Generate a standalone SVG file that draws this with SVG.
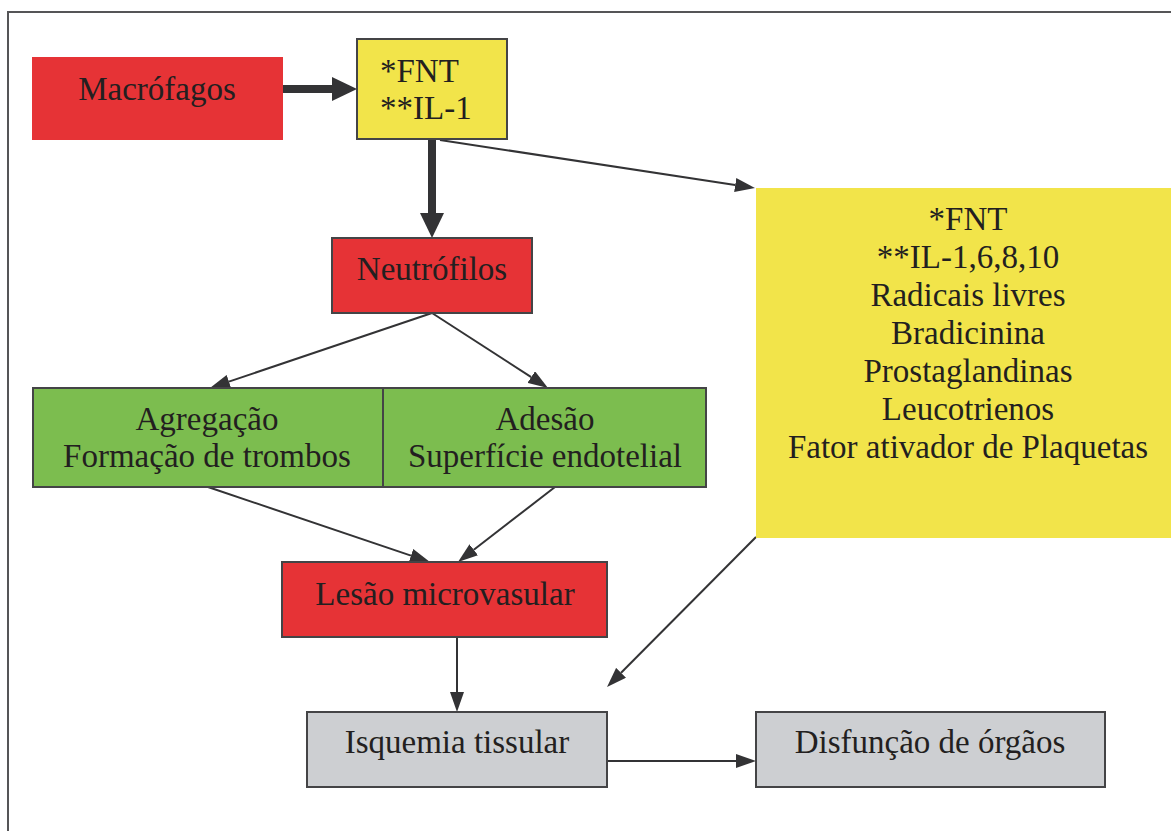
<svg xmlns="http://www.w3.org/2000/svg" width="1171" height="831" viewBox="0 0 1171 831">
  <style>
    text { font-family: "Liberation Serif", "Times New Roman", serif; font-size: 33px; fill: #231f20; }
    .c { text-anchor: middle; }
    .box { stroke: #444446; stroke-width: 2; }
    .red { fill: #e63336; }
    .yellow { fill: #f2e44a; }
    .green { fill: #7cbd4f; }
    .gray { fill: #cdcfd2; }
    .thin { stroke: #333335; stroke-width: 2; fill: none; marker-end: url(#ah); }
    .thick { stroke: #333335; stroke-width: 8; fill: none; marker-end: url(#ahb); }
  </style>
  <defs>
    <marker id="ah" markerUnits="userSpaceOnUse" viewBox="0 0 20 14" refX="0" refY="7" markerWidth="20" markerHeight="14" orient="auto">
      <path d="M0,0 L20,7 L0,14 z" fill="#333335"/>
    </marker>
    <marker id="ahb" markerUnits="userSpaceOnUse" viewBox="0 0 25 24" refX="0" refY="12" markerWidth="25" markerHeight="24" orient="auto">
      <path d="M0,0 L25,12 L0,24 z" fill="#333335"/>
    </marker>
  </defs>
  <rect x="0" y="0" width="1171" height="831" fill="#ffffff"/>
  <rect id="frame" x="8" y="12" width="1200" height="900" fill="none" stroke="#555557" stroke-width="2"/>

  <g id="connectors">
    <line class="thick" x1="283" y1="89" x2="332" y2="89"/>
    <line class="thick" x1="432" y1="139" x2="432" y2="213"/>
    <line class="thin" x1="440" y1="140" x2="735.2" y2="185"/>
    <line class="thin" x1="432" y1="313" x2="228.9" y2="381.6"/>
    <line class="thin" x1="432" y1="313" x2="531.2" y2="377.1"/>
    <line class="thin" x1="208" y1="487" x2="411" y2="555.6"/>
    <line class="thin" x1="555" y1="487" x2="473.8" y2="549.8"/>
    <line class="thin" x1="457" y1="637" x2="457" y2="692"/>
    <line class="thin" x1="756" y1="537" x2="621.1" y2="672.8"/>
    <line class="thin" x1="607" y1="761" x2="736" y2="761"/>
  </g>

  <g id="macrofagos">
    <rect class="red" x="32" y="57" width="251" height="83"/>
    <text class="c" x="157" y="100">Macrófagos</text>
  </g>
  <g id="fnt-il1">
    <rect class="box yellow" x="357" y="39" width="150" height="100"/>
    <text x="380" y="82">*FNT</text>
    <text x="380" y="119">**IL-1</text>
  </g>
  <g id="mediadores">
    <rect class="yellow" x="756" y="188" width="430" height="350"/>
    <text class="c" x="968" y="230">*FNT</text>
    <text class="c" x="968" y="268">**IL-1,6,8,10</text>
    <text class="c" x="968" y="306">Radicais livres</text>
    <text class="c" x="968" y="344">Bradicinina</text>
    <text class="c" x="968" y="382">Prostaglandinas</text>
    <text class="c" x="968" y="420">Leucotrienos</text>
    <text class="c" x="968" y="458">Fator ativador de Plaquetas</text>
  </g>
  <g id="neutrofilos">
    <rect class="box red" x="332" y="238" width="200" height="75"/>
    <text class="c" x="432" y="280">Neutrófilos</text>
  </g>
  <g id="agregacao">
    <rect class="box green" x="33" y="388" width="350" height="99"/>
    <text class="c" x="207" y="430">Agregação</text>
    <text class="c" x="207" y="467">Formação de trombos</text>
  </g>
  <g id="adesao">
    <rect class="box green" x="383" y="388" width="323" height="99"/>
    <text class="c" x="545" y="430">Adesão</text>
    <text class="c" x="545" y="467">Superfície endotelial</text>
  </g>
  <g id="lesao">
    <rect class="box red" x="282" y="562" width="325" height="75"/>
    <text class="c" x="445" y="605">Lesão microvasular</text>
  </g>
  <g id="isquemia">
    <rect class="box gray" x="307" y="712" width="300" height="75"/>
    <text class="c" x="457" y="753">Isquemia tissular</text>
  </g>
  <g id="disfuncao">
    <rect class="box gray" x="756" y="712" width="349" height="75"/>
    <text class="c" x="930" y="753">Disfunção de órgãos</text>
  </g>
</svg>
